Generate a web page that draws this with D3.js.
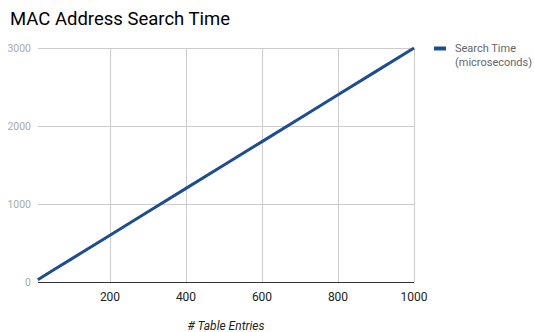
<!DOCTYPE html>
<html><head><meta charset="utf-8">
<script src="https://cdn.jsdelivr.net/npm/d3@7"></script>
<style>body{margin:0;background:#fff}svg{display:block;font-family:Roboto,sans-serif}</style>
</head><body>
<script>
const entries = [10, 50, 100, 200, 300, 400, 500, 600, 700, 800, 900, 1000];
const searchTime = [30, 150, 300, 600, 900, 1200, 1500, 1800, 2100, 2400, 2700, 3000];
const xTicks = [200, 400, 600, 800, 1000];
const yTicks = [0, 1000, 2000, 3000];
const title = "MAC Address Search Time";
const xTitle = "# Table Entries";
const legendLines = ["Search Time", "(microseconds)"];

const W = 534, H = 332;
const svg = d3.select("body").append("svg").attr("width", W).attr("height", H);
const x = d3.scaleLinear().domain([10, 1000]).range([37.8, 414]);
const y = d3.scaleLinear().domain([0, 3000]).range([282, 48]);

svg.append("text").attr("x", 10).attr("y", 25).attr("font-size", 18.5).attr("fill", "#000").text(title);

// grid
const g = svg.append("g");
g.selectAll(".hg").data(yTicks.filter(d => d > 0)).enter().append("line")
  .attr("x1", x(10)).attr("x2", x(1000)).attr("y1", d => y(d)).attr("y2", d => y(d))
  .attr("stroke", "#ccc").attr("stroke-width", 1).attr("shape-rendering", "crispEdges");
g.selectAll(".vg").data(xTicks).enter().append("line")
  .attr("x1", d => x(d)).attr("x2", d => x(d)).attr("y1", y(3000)).attr("y2", y(0))
  .attr("stroke", "#ccc").attr("stroke-width", 1).attr("shape-rendering", "crispEdges");

// y labels
svg.append("g").selectAll("text").data(yTicks).enter().append("text")
  .attr("x", 31).attr("y", d => y(d) + 4).attr("text-anchor", "end")
  .attr("font-size", 10.5).attr("fill", "#aaa").text(d => d);

// x labels
svg.append("g").selectAll("text").data(xTicks).enter().append("text")
  .attr("x", d => x(d)).attr("y", 301).attr("text-anchor", "middle")
  .attr("font-size", 12).attr("fill", "#222").text(d => d);

svg.append("text").attr("x", 226).attr("y", 330).attr("text-anchor", "middle")
  .attr("font-size", 12).attr("font-style", "italic").attr("fill", "#222").text(xTitle);

// line
const line = d3.line().x((d, i) => x(entries[i])).y(d => y(d));
svg.append("path").datum(searchTime).attr("d", line).attr("fill", "none")
  .attr("stroke", "#1f4e8c").attr("stroke-width", 3);

// baseline
svg.append("line").attr("x1", x(10)).attr("x2", x(1000)).attr("y1", y(0)).attr("y2", y(0))
  .attr("stroke", "#333").attr("stroke-width", 1).attr("shape-rendering", "crispEdges");

// legend
svg.append("line").attr("x1", 434).attr("x2", 446).attr("y1", 48.5).attr("y2", 48.5)
  .attr("stroke", "#1f4e8c").attr("stroke-width", 4);
svg.append("g").selectAll("text").data(legendLines).enter().append("text")
  .attr("x", 455).attr("y", (d, i) => 52 + i * 14).attr("font-size", 11).attr("fill", "#666").text(d => d);
</script>
</body></html>
